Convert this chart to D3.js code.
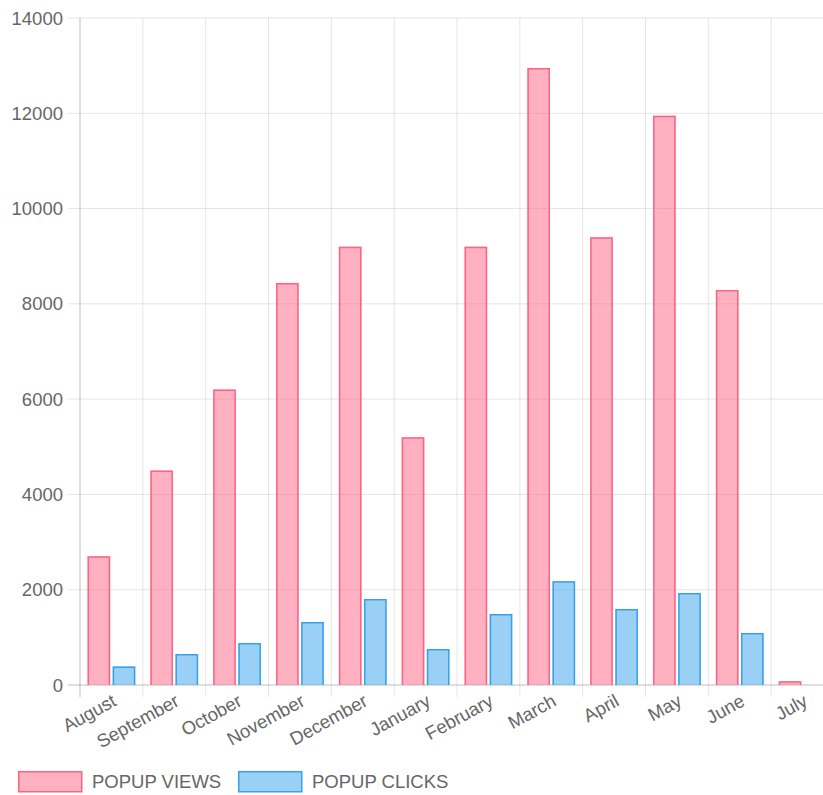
<!DOCTYPE html>
<html>
<head>
<meta charset="utf-8">
<script src="https://cdn.jsdelivr.net/npm/d3@7/dist/d3.min.js"></script>
<style>
  html, body { margin: 0; padding: 0; background: #fff; }
  svg { display: block; overflow: hidden; }
  text { font-family: "Liberation Sans", Arial, sans-serif; fill: #666; }
</style>
</head>
<body>
<svg id="chart" width="823" height="795"></svg>
<script>
const categories = ["August","September","October","November","December","January","February","March","April","May","June","July"];
const seriesNames = ["POPUP VIEWS","POPUP CLICKS"];
const popupViews  = [2700, 4500, 6200, 8440, 9200, 5200, 9200, 12950, 9400, 11950, 8290, 80];
const popupClicks = [390, 650, 880, 1320, 1805, 755, 1490, 2180, 1595, 1930, 1090, 0];
const yTicks = [0, 2000, 4000, 6000, 8000, 10000, 12000, 14000];

const fills   = ["rgba(255,99,132,0.5)", "rgba(54,162,235,0.5)"];
const borders = ["rgb(255,99,132)", "rgb(54,162,235)"];

(function () {
const svg = d3.select("#chart");
const pLeft = 80, pRight = 834, pTop = 18, pBottom = 685;
const fs = 18.5;

const x0 = d3.scaleBand().domain(categories).range([pLeft, pRight]).paddingInner(0).paddingOuter(0);
const x1 = d3.scaleBand().domain(seriesNames)
  .range([x0.bandwidth() * 0.1, x0.bandwidth() * 0.9])
  .paddingInner(0.1).paddingOuter(0.05);
const y = d3.scaleLinear().domain([0, 14000]).range([pBottom, pTop]);

// horizontal gridlines
svg.append("g").selectAll("line").data(yTicks).join("line")
  .attr("x1", pLeft - 12).attr("x2", pRight)
  .attr("y1", d => y(d)).attr("y2", d => y(d))
  .attr("stroke", d => d === 0 ? "rgba(0,0,0,0.25)" : "rgba(0,0,0,0.1)")
  .attr("stroke-width", 1);

// vertical gridlines
svg.append("g").selectAll("line").data(categories).join("line")
  .attr("x1", d => x0(d)).attr("x2", d => x0(d))
  .attr("y1", pTop).attr("y2", pBottom + 12)
  .attr("stroke", (d, i) => i === 0 ? "rgba(0,0,0,0.25)" : "rgba(0,0,0,0.1)")
  .attr("stroke-width", 1);

// y tick labels
svg.append("g").selectAll("text").data(yTicks).join("text")
  .attr("x", 63).attr("y", d => y(d))
  .attr("text-anchor", "end").attr("dominant-baseline", "central")
  .attr("font-size", fs)
  .text(d => d);

// bars
const data = [popupViews, popupClicks];
seriesNames.forEach((s, si) => {
  const g = svg.append("g");
  g.selectAll("rect").data(categories).join("rect")
    .attr("x", d => x0(d) + x1(s))
    .attr("y", (d, i) => y(data[si][i]))
    .attr("width", x1.bandwidth())
    .attr("height", (d, i) => y(0) - y(data[si][i]))
    .attr("fill", fills[si]);
  g.selectAll("path").data(categories).join("path")
    .attr("d", (d, i) => {
      if (data[si][i] <= 0) return null;
      const xa = x0(d) + x1(s) + 0.75, xb = x0(d) + x1(s) + x1.bandwidth() - 0.75;
      const yt = y(data[si][i]) + 0.75, yb = y(0);
      return `M${xa},${yb}L${xa},${yt}L${xb},${yt}L${xb},${yb}`;
    })
    .attr("fill", "none")
    .attr("stroke", borders[si])
    .attr("stroke-width", 1.5);
});

// x tick labels
svg.append("g").selectAll("text").data(categories).join("text")
  .attr("transform", d => `translate(${x0(d) + x0.bandwidth() / 2 + 3},${pBottom + 14}) rotate(-29)`)
  .attr("text-anchor", "end").attr("dominant-baseline", "central")
  .attr("font-size", fs)
  .text(d => d);

// legend
const legendItems = [
  { name: seriesNames[0], x: 18, tx: 92 },
  { name: seriesNames[1], x: 238, tx: 312 }
];
const lg = svg.append("g");
legendItems.forEach((it, i) => {
  lg.append("rect").attr("x", it.x + 0.75).attr("y", 771.75).attr("width", 63).attr("height", 20)
    .attr("fill", fills[i]).attr("stroke", borders[i]).attr("stroke-width", 1.5);
  lg.append("text").attr("x", it.tx).attr("y", 781.5)
    .attr("dominant-baseline", "central").attr("font-size", fs)
    .text(it.name);
});
})();
</script>
</body>
</html>
